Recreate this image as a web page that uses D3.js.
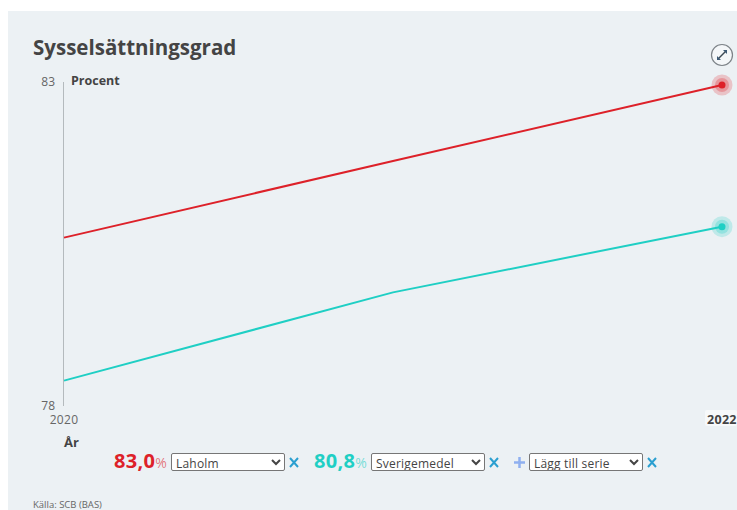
<!DOCTYPE html>
<html>
<head>
<meta charset="utf-8">
<script src="https://cdn.jsdelivr.net/npm/d3@7"></script>
<style>
  html, body { margin: 0; padding: 0; background: #fff; overflow: hidden; }
  #chart { position: relative; width: 737px; height: 510px; overflow: hidden; font-family: "Open Sans", sans-serif; }
  svg { position: absolute; left: 0; top: 0; }
  select {
    position: absolute; height: 18px; width: 114px; font-family: "Open Sans", sans-serif; font-size: 12px;
    color: #444; background: #fff; border: 1px solid #767676; border-radius: 2px; padding: 0; letter-spacing: 0.2px;
  }
</style>
</head>
<body>
<div id="chart"></div>
<script>
const years = [2020, 2021, 2022];
const laholm = [80.63, 81.82, 83.0];
const sverige = [78.41, 79.78, 80.8];
const yTicks = [78, 83];
const seriesNames = ["Laholm", "Sverigemedel", "Lägg till serie"];
const seriesLabels = ["83,0", "80,8"];
const red = "#dd2129";
const teal = "#1fcfc4";
const ink = "#444444";

const width = 737;
const height = 510;

const chart = d3.select("#chart");
const svg = chart.append("svg").attr("width", width).attr("height", height);

// panel
svg.append("rect").attr("x", 8).attr("y", 11).attr("width", 729).attr("height", 499).attr("fill", "#ecf1f4");

const x = d3.scaleLinear().domain([2020, 2022]).range([64, 722]);
const y = d3.scaleLinear().domain([78, 83]).range([407, 85]);

svg.append("text").attr("x", 33).attr("y", 55).attr("font-size", 20.5).attr("font-weight", 700)
  .attr("fill", ink).text("Sysselsättningsgrad");

// y axis
svg.append("line").attr("x1", x(2020) - 0.5).attr("x2", x(2020) - 0.5).attr("y1", 82).attr("y2", 406)
  .attr("stroke", "#b4babd").attr("stroke-width", 1);

svg.selectAll(".ytick").data(yTicks).join("text")
  .attr("class", "ytick")
  .attr("x", 55).attr("y", d => d === 83 ? 86 : 410)
  .attr("text-anchor", "end").attr("font-size", 12).attr("fill", "#666")
  .text(d => d);

svg.append("text").attr("x", 71).attr("y", 85).attr("font-size", 12.5).attr("font-weight", 700).attr("fill", ink).text("Procent");

// x axis labels
svg.append("text").attr("x", x(2020)).attr("y", 424).attr("text-anchor", "middle").attr("font-size", 12)
  .attr("fill", "#666").attr("letter-spacing", 0.3).text(years[0]);
svg.append("rect").attr("x", 705).attr("y", 410).attr("width", 32).attr("height", 16).attr("rx", 2).attr("fill", "#f7f9fa");
svg.append("text").attr("x", 707).attr("y", 424).attr("font-size", 12.5).attr("font-weight", 700)
  .attr("fill", ink).attr("letter-spacing", 0.3).text(years[2]);
svg.append("text").attr("x", 64).attr("y", 447).attr("font-size", 13).attr("font-weight", 700).attr("fill", ink).text("År");

// lines with end markers
const line = d3.line().x((d, i) => x(years[i])).y(d => y(d));
[[laholm, red], [sverige, teal]].forEach(([vals, color]) => {
  svg.append("path").datum(vals).attr("d", line).attr("fill", "none").attr("stroke", color).attr("stroke-width", 2);
  const last = vals[vals.length - 1];
  [[10.5, 0.22], [7, 0.28], [3.5, 1]].forEach(([r, op]) => {
    svg.append("circle").attr("cx", x(2022)).attr("cy", y(last)).attr("r", r).attr("fill", color).attr("opacity", op);
  });
});

// expand button
const btn = svg.append("g").attr("transform", "translate(722,55)");
btn.append("circle").attr("r", 10.5).attr("fill", "#f4f7f9").attr("stroke", "#7d8388").attr("stroke-width", 1.2);
btn.append("line").attr("x1", -4).attr("y1", 4).attr("x2", 4).attr("y2", -4).attr("stroke", "#3d4a55").attr("stroke-width", 1.4);
btn.append("path").attr("d", "M1,-5H5V-1Z M-5,1V5H-1Z").attr("fill", "#3d5a75");

// legend row
const legendX = [114, 314];
seriesLabels.forEach((label, i) => {
  const color = i === 0 ? red : teal;
  const t = svg.append("text").attr("x", legendX[i]).attr("y", 468).attr("font-weight", 700).attr("font-size", 20)
    .attr("letter-spacing", 0.3).attr("fill", color).text(label);
  t.append("tspan").attr("font-size", 14).attr("font-weight", 400).attr("fill-opacity", 0.6).text("%");
});

const selectX = [171, 371, 529];
seriesNames.forEach((name, i) => {
  const sel = chart.append("select").style("left", selectX[i] + "px").style("top", "453px");
  sel.append("option").text(name);
});

const crossX = [294, 494, 652];
crossX.forEach(cx => {
  svg.append("path").attr("d", `M${cx - 4},458 L${cx + 4},467 M${cx + 4},458 L${cx - 4},467`)
    .attr("stroke", "#2a9fd0").attr("stroke-width", 2).attr("fill", "none");
});

svg.append("path").attr("d", "M514,462.5H525 M519.5,457V468").attr("stroke", "#8fb0f0").attr("stroke-width", 2.5);

svg.append("text").attr("x", 33).attr("y", 508).attr("font-size", 9.5).attr("fill", "#666").text("Källa: SCB (BAS)");
</script>
</body>
</html>
